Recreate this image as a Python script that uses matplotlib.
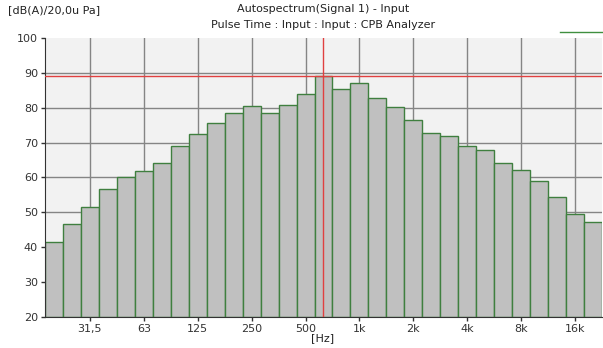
import matplotlib
matplotlib.use("Agg")
import matplotlib.pyplot as plt
import numpy as np

plt.rcParams['font.family'] = ['Liberation Sans Narrow', 'DejaVu Sans']

# 1/3 octave band centres and levels dB(A)
bands = [20, 25, 31.5, 40, 50, 63, 80, 100, 125, 160, 200, 250, 315, 400, 500,
         630, 800, 1000, 1250, 1600, 2000, 2500, 3150, 4000, 5000, 6300, 8000,
         10000, 12500, 16000, 20000]
levels = [41.6, 46.8, 51.6, 56.6, 60.0, 62.0, 64.3, 68.9, 72.5, 75.7, 78.4, 80.4,
          78.4, 80.7, 84.0, 89.0, 85.3, 87.2, 82.9, 80.2, 76.5, 72.9, 71.9, 68.9,
          67.8, 64.1, 62.1, 59.0, 54.5, 49.5, 47.3]
tick_freqs = [31.5, 63, 125, 250, 500, 1000, 2000, 4000, 8000, 16000]
tick_labels = ['31,5', '63', '125', '250', '500', '1k', '2k', '4k', '8k', '16k']
y_ticks = [20, 30, 40, 50, 60, 70, 80, 90, 100]
cursor_freq = 630
cursor_level = 89.0

W, H = 603, 348
fig = plt.figure(figsize=(W / 100, H / 100), dpi=100)
ax = fig.add_axes([45 / W, (H - 317) / H, (602 - 45) / W, (317 - 38) / H])
ax.set_facecolor('#f2f2f2')

# nominal centres -> exact third octave positions
exact = 1000 * 2 ** (np.round(3 * np.log2(np.array(bands) / 1000)) / 3)
lo = exact * 2 ** (-1 / 6)
hi = exact * 2 ** (1 / 6)
ax.bar(lo, np.array(levels) - 20, width=hi - lo, bottom=20, align='edge',
       color='#c0c0c0', edgecolor='#3f7f3f', linewidth=1.0, zorder=3)

ax.set_xscale('log')
ax.set_xlim(lo[0], hi[-1])
ax.set_ylim(20, 100)
tick_exact = 1000 * 2 ** (np.round(np.log2(np.array(tick_freqs) / 1000)))
ax.set_xticks(tick_exact)
ax.set_xticklabels(tick_labels)
ax.xaxis.set_minor_locator(matplotlib.ticker.NullLocator())
ax.set_yticks(y_ticks)
ax.grid(True, axis='x', color='#858585', linewidth=1.0, zorder=1)
for yv in y_ticks[1:-1]:
    ax.axhline(yv, color='#858585', linewidth=1.0, zorder=1)
ax.tick_params(axis='both', labelsize=8, colors='#333333', length=3, width=1, pad=2)
for s in ['top', 'right']:
    ax.spines[s].set_visible(False)
for s in ['left', 'bottom']:
    ax.spines[s].set_color('#333333')
    ax.spines[s].set_zorder(4)

c_exact = 1000 * 2 ** (np.round(3 * np.log2(cursor_freq / 1000)) / 3)
ax.axhline(cursor_level, color='#e04040', linewidth=1.0, zorder=5)
ax.axvline(c_exact, color='#e04040', linewidth=1.0, zorder=5)

fig.text(8 / W, 1 - 10 / H, '[dB(A)/20,0u Pa]', fontsize=8, va='center', ha='left', color='#222222')
fig.text(323 / W, 1 - 9 / H, 'Autospectrum(Signal 1) - Input', fontsize=8, va='center', ha='center', color='#222222')
fig.text(323 / W, 1 - 25 / H, 'Pulse Time : Input : Input : CPB Analyzer', fontsize=8, va='center', ha='center', color='#222222')
fig.text(323 / W, 1 - 338 / H, '[Hz]', fontsize=8, va='center', ha='center', color='#222222')
fig.add_artist(plt.Line2D([560 / W, 603 / W], [1 - 32 / H, 1 - 32 / H], color='#3f8f3f', linewidth=1.0))

fig.savefig('out.png', dpi=100)
